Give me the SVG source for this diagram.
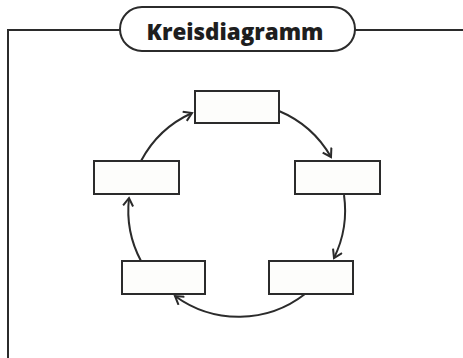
<svg xmlns="http://www.w3.org/2000/svg" width="463" height="358" viewBox="0 0 463 358">
<defs>
<style>
.box{fill:#fdfdfb;stroke:#2b2b2b;stroke-width:2}
.frame{fill:none;stroke:#2b2b2b;stroke-width:2}
.arc{fill:none;stroke:#2b2b2b;stroke-width:2;marker-end:url(#ah)}
.title{font-family:"Open Sans","Noto Sans",sans-serif;font-weight:800;font-size:23.5px;fill:#1e1e1e}
</style>
<marker id="ah" viewBox="0 0 12 12" refX="10" refY="6" markerWidth="12" markerHeight="12" markerUnits="userSpaceOnUse" orient="auto">
<path d="M2,1 L10,6 L2,11" fill="none" stroke="#2b2b2b" stroke-width="2"/>
</marker>
</defs>
<rect width="463" height="358" fill="#ffffff"/>
<g id="frame">
<path class="frame" d="M8,358 V30 H120 M355,30 H463"/>
<rect class="frame" x="120" y="7" width="235" height="44" rx="22" fill="#fff"/>
<text class="title" x="235" y="40" text-anchor="middle" textLength="177" lengthAdjust="spacingAndGlyphs">Kreisdiagramm</text>
</g>
<g id="connectors">
<path class="arc" d="M141,161 A108,108 0 0 1 192,113"/>
<path class="arc" d="M279,111 A108,108 0 0 1 331,157"/>
<path class="arc" d="M344,195 A108,108 0 0 1 334,258"/>
<path class="arc" d="M305,294 A108,108 0 0 1 175,296"/>
<path class="arc" d="M141,261 A108,108 0 0 1 129,198"/>
</g>
<g id="node-top"><rect class="box" x="195" y="91" width="84" height="32"/></g>
<g id="node-right"><rect class="box" x="295" y="161" width="85" height="33"/></g>
<g id="node-bottom-right"><rect class="box" x="269" y="261" width="84" height="33"/></g>
<g id="node-bottom-left"><rect class="box" x="122" y="261" width="83" height="33"/></g>
<g id="node-left"><rect class="box" x="94" y="161" width="85" height="33"/></g>
</svg>
